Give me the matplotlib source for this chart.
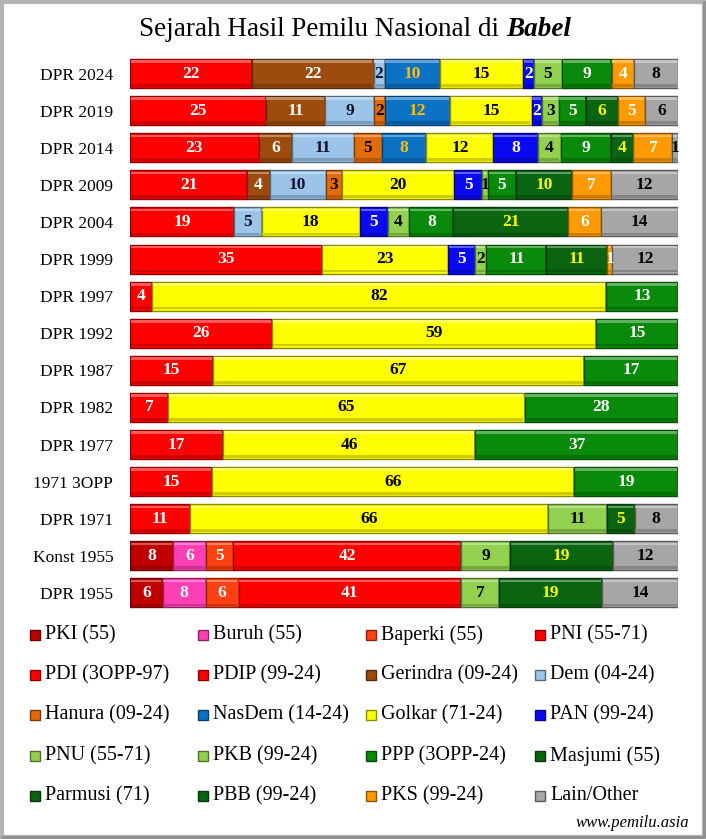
import numpy as np
import matplotlib.pyplot as plt
from matplotlib.patches import Rectangle
from matplotlib.colors import to_rgb

plt.rcParams['font.family'] = ['Liberation Serif', 'DejaVu Serif']

# rows from bottom (DPR 1955) to top (DPR 2024)
rows = ['DPR 1955', 'Konst 1955', 'DPR 1971', '1971 3OPP', 'DPR 1977', 'DPR 1982',
        'DPR 1987', 'DPR 1992', 'DPR 1997', 'DPR 1999', 'DPR 2004', 'DPR 2009',
        'DPR 2014', 'DPR 2019', 'DPR 2024']

parties = ['PKI (55)', 'Buruh (55)', 'Baperki (55)', 'PNI (55-71)',
           'PDI (3OPP-97)', 'PDIP (99-24)', 'Gerindra (09-24)', 'Dem (04-24)',
           'Hanura (09-24)', 'NasDem (14-24)', 'Golkar (71-24)', 'PAN (99-24)',
           'PNU (55-71)', 'PKB (99-24)', 'PPP (3OPP-24)', 'Masjumi (55)',
           'Parmusi (71)', 'PBB (99-24)', 'PKS (99-24)', 'Lain/Other']

pki      = [6, 8, 0, 0, 0, 0, 0, 0, 0, 0, 0, 0, 0, 0, 0]
buruh    = [8, 6, 0, 0, 0, 0, 0, 0, 0, 0, 0, 0, 0, 0, 0]
baperki  = [6, 5, 0, 0, 0, 0, 0, 0, 0, 0, 0, 0, 0, 0, 0]
pni      = [41, 42, 11, 0, 0, 0, 0, 0, 0, 0, 0, 0, 0, 0, 0]
pdi      = [0, 0, 0, 15, 17, 7, 15, 26, 4, 0, 0, 0, 0, 0, 0]
pdip     = [0, 0, 0, 0, 0, 0, 0, 0, 0, 35, 19, 21, 23, 25, 22]
gerindra = [0, 0, 0, 0, 0, 0, 0, 0, 0, 0, 0, 4, 6, 11, 22]
dem      = [0, 0, 0, 0, 0, 0, 0, 0, 0, 0, 5, 10, 11, 9, 2]
hanura   = [0, 0, 0, 0, 0, 0, 0, 0, 0, 0, 0, 3, 5, 2, 0]
nasdem   = [0, 0, 0, 0, 0, 0, 0, 0, 0, 0, 0, 0, 8, 12, 10]
golkar   = [0, 0, 66, 66, 46, 65, 67, 59, 82, 23, 18, 20, 12, 15, 15]
pan      = [0, 0, 0, 0, 0, 0, 0, 0, 0, 5, 5, 5, 8, 2, 2]
pnu      = [7, 9, 11, 0, 0, 0, 0, 0, 0, 0, 0, 0, 0, 0, 0]
pkb      = [0, 0, 0, 0, 0, 0, 0, 0, 0, 2, 4, 1, 4, 3, 5]
ppp      = [0, 0, 0, 19, 37, 28, 17, 15, 13, 11, 8, 5, 9, 5, 9]
masjumi  = [19, 19, 0, 0, 0, 0, 0, 0, 0, 0, 0, 0, 0, 0, 0]
parmusi  = [0, 0, 5, 0, 0, 0, 0, 0, 0, 0, 0, 0, 0, 0, 0]
pbb      = [0, 0, 0, 0, 0, 0, 0, 0, 0, 11, 21, 10, 4, 6, 0]
pks      = [0, 0, 0, 0, 0, 0, 0, 0, 0, 1, 6, 7, 7, 5, 4]
lain     = [14, 12, 8, 0, 0, 0, 0, 0, 0, 12, 14, 12, 1, 6, 8]

series = [pki, buruh, baperki, pni, pdi, pdip, gerindra, dem, hanura, nasdem,
          golkar, pan, pnu, pkb, ppp, masjumi, parmusi, pbb, pks, lain]

colors = ['#C00000', '#FF40B4', '#FF4010', '#FF0000', '#FF0000', '#FF0000',
          '#9E4C0E', '#9CC3E8', '#E26B0A', '#0C72C4', '#FFFF00', '#0A0AF0',
          '#92D050', '#92D050', '#0A8A0A', '#0A6410', '#0A6410', '#0A6410',
          '#FF9A00', '#A6A6A6']
text_colors = ['white', 'white', 'white', 'white', 'white', 'white',
               'white', '#10102A', 'black', '#FFC000', 'black', 'white',
               'black', 'black', 'white', '#FFFF00', '#FFFF00', '#FFFF00',
               'white', 'black']


def shade(c, f):
    r, g, b = to_rgb(c)
    if f < 1:
        return (r * f, g * f, b * f)
    return (r + (1 - r) * (f - 1), g + (1 - g) * (f - 1), b + (1 - b) * (f - 1))


W, H = 706, 839
fig = plt.figure(figsize=(W / 100, H / 100), dpi=100)
fig.patch.set_facecolor('white')

ax = fig.add_axes([130 / W, 1 - 611.5 / H, 548 / W, 556.5 / H])

vals = np.array(series, dtype=float)
totals = vals.sum(axis=0)
widths = vals / totals * 100
y = np.arange(len(rows))
h = 0.78
left = np.zeros(len(rows))
for i, (w, c) in enumerate(zip(widths, colors)):
    ax.barh(y, w, left=left, height=h, color=c, edgecolor=shade(c, 0.55), linewidth=1.0)
    inner = np.where(w > 0, w - 0.35, 0)
    # bevel: light band on top, dark band at the bottom
    ax.barh(y + h / 2 - 0.07, inner, left=left + 0.15, height=0.07,
            color=shade(c, 1.35), linewidth=0)
    ax.barh(y - h / 2 + 0.07, inner, left=left + 0.15, height=0.07,
            color=shade(c, 0.8), linewidth=0)
    for j in range(len(rows)):
        if vals[i, j] > 0:
            ax.text(left[j] + w[j] / 2, y[j], f'{int(vals[i, j])}', ha='center', va='center',
                    fontsize=12.5, fontweight='bold', color=text_colors[i])
    left += w

ax.set_xlim(0, 100)
ax.set_ylim(-0.5, len(rows) - 0.5)
ax.set_yticks(y)
ax.set_yticklabels(rows, fontsize=12.5)
ax.tick_params(axis='y', length=0, pad=12)
ax.set_xticks([])
for s in ax.spines.values():
    s.set_visible(False)

# overlay in pixel coordinates for title, legend and frame
ov = fig.add_axes([0, 0, 1, 1], zorder=-1)
ov.set_xlim(0, W)
ov.set_ylim(H, 0)
ov.axis('off')

ov.add_patch(Rectangle((2, 2), W - 4, H - 4, fill=False, edgecolor='#B4B4B4', linewidth=3))
ov.plot([W - 2.5, W - 2.5, 2], [2, H - 2.5, H - 2.5], color='#909090', linewidth=2)

t1 = ov.text(139, 29, 'Sejarah Hasil Pemilu Nasional di ', fontsize=19.5, va='center', ha='left')
ov.annotate('Babel', xy=(1, 0), xycoords=t1, va='bottom', ha='left',
            fontsize=19.5, fontweight='bold', fontstyle='italic')

col_x = [30, 198, 366, 535]
row_y = [635, 675, 715, 756, 796]
for k, (name, c) in enumerate(zip(parties, colors)):
    cx = col_x[k % 4]
    cy = row_y[k // 4]
    ov.add_patch(Rectangle((cx, cy - 5), 10, 10, facecolor=c, edgecolor=shade(c, 0.55), linewidth=1))
    ov.text(cx + 15, cy, name, fontsize=14.5, va='center', ha='left')

ov.text(689, 823, 'www.pemilu.asia', fontsize=12, fontstyle='italic', ha='right', va='center')

fig.savefig('out.png', dpi=100)
